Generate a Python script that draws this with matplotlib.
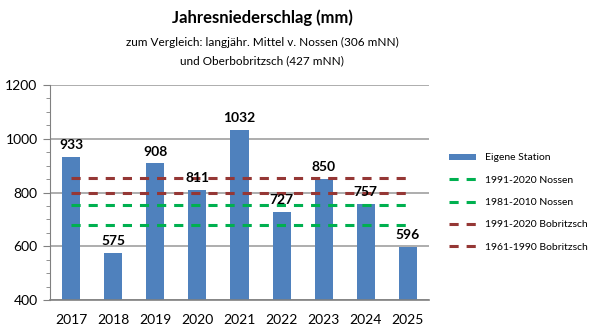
import matplotlib.pyplot as plt
import numpy as np

plt.rcParams['font.family'] = ['Lato', 'DejaVu Sans']

jahre = ['2017', '2018', '2019', '2020', '2021', '2022', '2023', '2024', '2025']
niederschlag = [933, 575, 908, 811, 1032, 727, 850, 757, 596]

# langjährige Mittelwerte (Vergleichslinien)
mittel_namen = ['1991-2020 Nossen', '1981-2010 Nossen', '1991-2020 Bobritzsch', '1961-1990 Bobritzsch']
mittel_werte = [755, 680, 855, 800]
mittel_farben = ['#00B050', '#00B050', '#953735', '#953735']

fig = plt.figure(figsize=(6, 3.35), dpi=100)
ax = fig.add_axes([50/600, 35/335, 379/600, 215/335])

x = np.arange(len(jahre))
ax.set_axisbelow(True)
ax.yaxis.grid(True, color='#A0A0A0', linewidth=1.2)
ax.bar(x, niederschlag, width=0.43, color='#4F81BD', label='Eigene Station', zorder=2)

for name, wert, farbe in zip(mittel_namen, mittel_werte, mittel_farben):
    ax.plot([x[0], x[-1]], [wert, wert], color=farbe, linewidth=2.2,
            dashes=(3, 2.6), label=name, zorder=3)

for xi, v in zip(x, niederschlag):
    ax.text(xi, v + 22, str(v), ha='center', va='bottom', fontsize=10, fontweight='bold', zorder=4)

ax.set_xlim(-0.5, len(jahre) - 0.5)
ax.set_ylim(400, 1200)
ax.set_yticks([400, 600, 800, 1000, 1200])
ax.set_yticks(np.arange(400, 1201, 50), minor=True)
ax.set_xticks(x)
ax.set_xticklabels(jahre)
ax.tick_params(axis='x', length=0, labelsize=10, pad=10)
ax.tick_params(axis='y', which='major', length=5, color='#808080', labelsize=10, pad=4)
ax.tick_params(axis='y', which='minor', length=3, color='#808080')
for s in ['top', 'right']:
    ax.spines[s].set_visible(False)
ax.spines['left'].set_color('#808080')
ax.spines['bottom'].set_color('#808080')
ax.spines['bottom'].set_linewidth(1.2)

fig.text(262/600, 1 - 18/335, 'Jahresniederschlag (mm)', ha='center', va='center',
         fontsize=12, fontweight='bold')
fig.text(262/600, 1 - 42/335, 'zum Vergleich: langjähr. Mittel v. Nossen (306 mNN)',
         ha='center', va='center', fontsize=8.5)
fig.text(262/600, 1 - 61/335, 'und Oberbobritzsch (427 mNN)',
         ha='center', va='center', fontsize=8.5)

handles, labels = ax.get_legend_handles_labels()
handles = handles[-1:] + handles[:-1]
labels = labels[-1:] + labels[:-1]
ax.legend(handles, labels, loc='upper left', bbox_to_anchor=(440/600, 1 - 144/335),
          bbox_transform=fig.transFigure, frameon=False, fontsize=7.5, handlelength=2.6,
          handleheight=0.5, labelspacing=1.28, handletextpad=0.8)

fig.savefig('out.png', dpi=100)
